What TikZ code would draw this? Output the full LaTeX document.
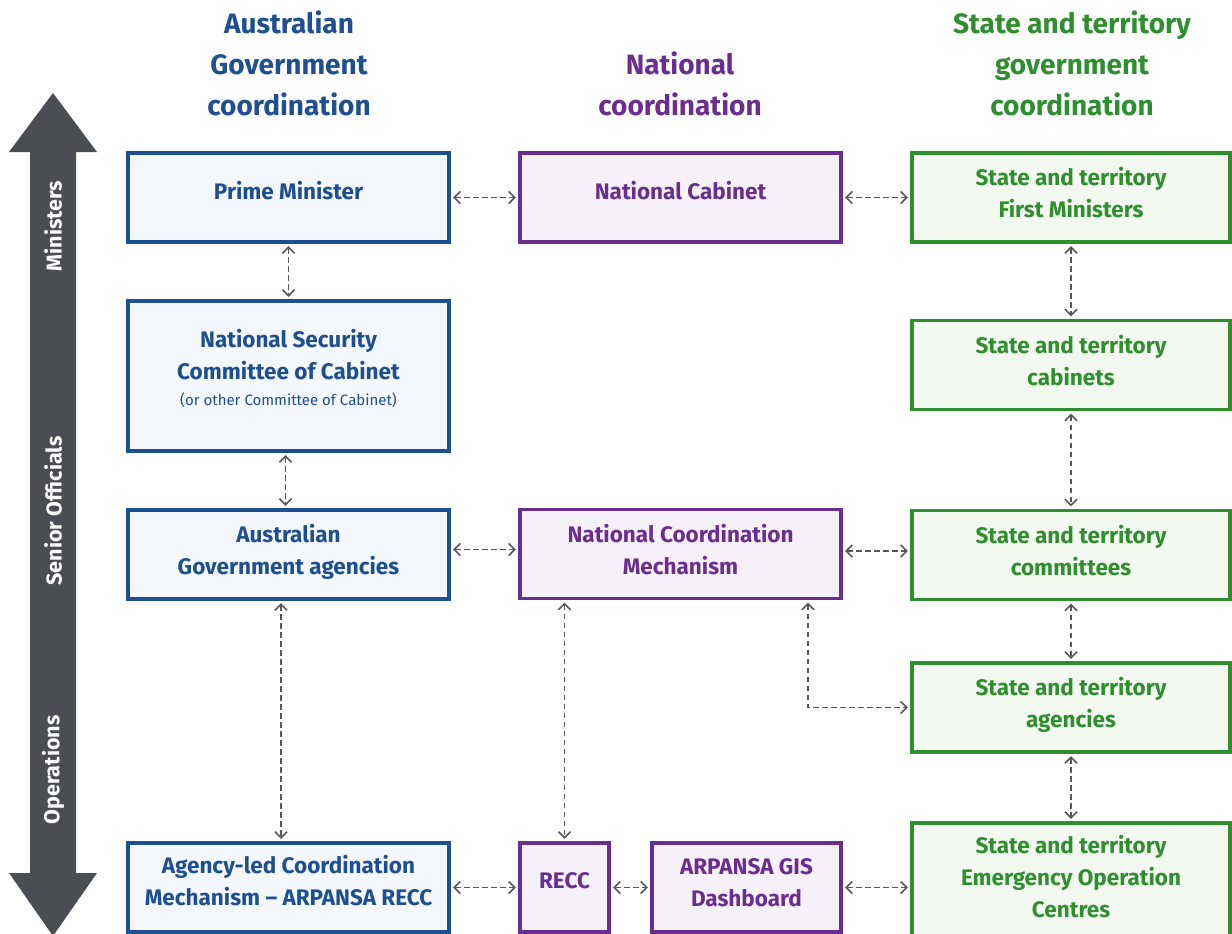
\documentclass[tikz,border=0pt]{standalone}
\usepackage{fontspec}
\setmainfont{Fira Sans}[BoldFont={Fira Sans Bold}]
\usepackage{tikz}
\usetikzlibrary{arrows.meta,positioning}
\definecolor{govblue}{HTML}{1E4F8F}
\definecolor{natpurple}{HTML}{6B2D8E}
\definecolor{stgreen}{HTML}{2F8F2F}
\definecolor{bgblue}{HTML}{F4F7FC}
\definecolor{bgpurple}{HTML}{F6F1F9}
\definecolor{bggreen}{HTML}{F3F9F1}
\definecolor{darrow}{HTML}{4A4D52}
\definecolor{lnk}{HTML}{55575B}
\tikzset{
  box/.style={line width=3.3pt,align=center,inner sep=4pt,text depth=10pt,font=\fontsize{22.5}{32}\selectfont\bfseries,minimum width=321pt,minimum height=89pt},
  boxb/.style={box,draw=govblue,fill=bgblue,text=govblue},
  boxp/.style={box,draw=natpurple,fill=bgpurple,text=natpurple},
  boxg/.style={box,draw=stgreen,fill=bggreen,text=stgreen,minimum width=318pt},
  lift/.style={text depth=14pt},
  arr/.style={{Straight Barb[length=6pt,width=12pt]}-{Straight Barb[length=6pt,width=12pt]},line width=1.6pt,color=lnk,dash pattern=on 5.5pt off 3.5pt,shorten <=2.5pt,shorten >=2.5pt},
  head/.style={font=\fontsize{28}{41}\selectfont\bfseries,align=center},
  lvl/.style={rotate=90,font=\fontsize{21.5}{22}\selectfont\bfseries,text=white},
}
\begin{document}
\begin{tikzpicture}[x=1pt,y=-1pt]
\useasboundingbox[fill=white] (0,0) rectangle (1232,934);
% column headings
\node[head,text=govblue] (hgov) at (289,63) {Australian\\Government\\coordination};
\node[head,text=natpurple] (hnat) at (680,84) {National\\coordination};
\node[head,text=stgreen] (hst) at (1072,63) {State and territory\\government\\coordination};
% level arrow
\fill[darrow] (9,152) -- (53,93) -- (97,152) -- (76,152) -- (76,873) -- (97,873) -- (53,936) -- (9,873) -- (30,873) -- (30,152) -- cycle;
\node[lvl] (lmin) at (53,226) {Ministers};
\node[lvl] (lsen) at (53,511) {Senior Officials};
\node[lvl] (lops) at (53,770) {Operations};
% Australian Government
\node[boxb,lift] (pm) at (288.5,197.5) {Prime Minister};
\node[boxb,minimum height=150pt,text depth=18pt] (nsc) at (288.5,376) {National Security\\Committee of Cabinet\\[-6pt]{\fontsize{15}{16}\selectfont\mdseries (or other Committee of Cabinet)}};
\node[boxb] (aga) at (288.5,554.5) {Australian\\Government agencies};
\node[boxb,lift] (alc) at (288.5,887.5) {Agency-led Coordination\\Mechanism -- ARPANSA RECC};
% National
\node[boxp,lift] (nc) at (680.5,197.5) {National Cabinet};
\node[boxp] (ncm) at (680.5,554) {National Coordination\\Mechanism};
\node[boxp,lift,minimum width=89pt] (recc) at (564.5,887.5) {RECC};
\node[boxp,minimum width=189pt] (gis) at (746.5,887.5) {ARPANSA GIS\\Dashboard};
% State and territory
\node[boxg] (stfm) at (1071,197.5) {State and territory\\First Ministers};
\node[boxg] (stcab) at (1071,365) {State and territory\\cabinets};
\node[boxg] (stcom) at (1071,555) {State and territory\\committees};
\node[boxg] (stag) at (1071,707.5) {State and territory\\agencies};
\node[boxg,minimum height=116pt] (steoc) at (1071,881) {State and territory\\Emergency Operation\\Centres};
% links
\draw[arr] (pm) -- (nc);
\draw[arr] (nc) -- (stfm);
\draw[arr] (pm) -- (nsc);
\draw[arr] ([xshift=-3pt]nsc.south) -- ([xshift=-3pt]aga.north);
\draw[arr] ([yshift=5pt]aga.east) -- ([yshift=5pt]aga.east -| ncm.west);
\draw[arr] ([yshift=3pt]ncm.east) -- ([yshift=3pt]ncm.east -| stcom.west);
\draw[arr] (stfm) -- (stcab);
\draw[arr] (stcab) -- (stcom);
\draw[arr] (stcom) -- (stag);
\draw[arr] (stag) -- (steoc);
\draw[arr] ([xshift=-7.5pt]aga.south) -- ([xshift=-7.5pt]alc.north);
\draw[arr] (recc.north |- ncm.south) -- (recc.north);
\draw[arr] ([xshift=127.5pt]ncm.south) |- (stag.west);
\draw[arr] (alc) -- (recc);
\draw[arr] (recc) -- (gis);
\draw[arr] (gis.east) -- (gis.east -| steoc.west);
\end{tikzpicture}
\end{document}
